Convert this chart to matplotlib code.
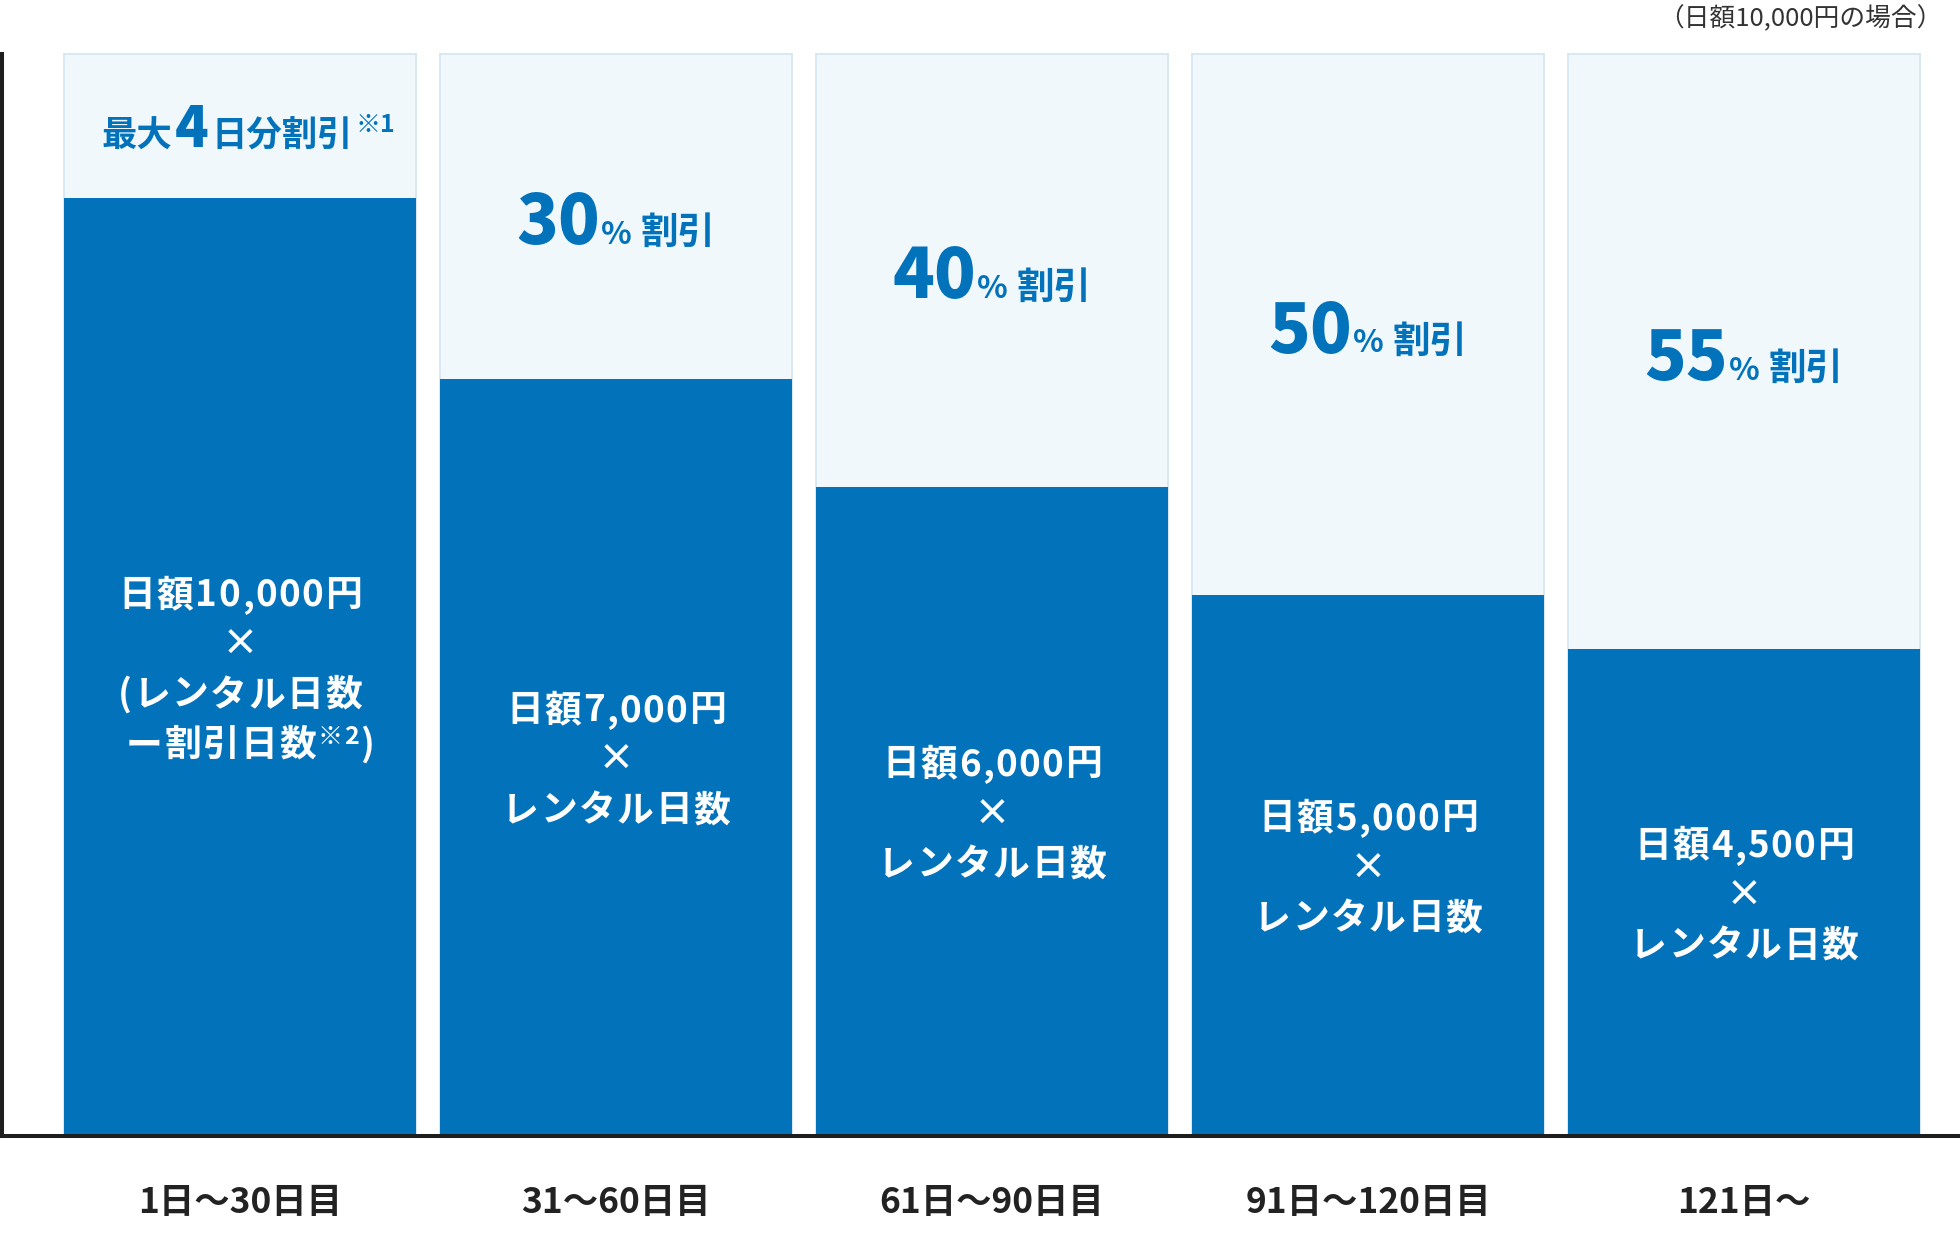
import numpy as np
import matplotlib
matplotlib.use('Agg')
import matplotlib.pyplot as plt
from matplotlib.transforms import offset_copy

plt.rcParams['font.family'] = ['Noto Sans CJK JP', 'DejaVu Sans']

# data
categories = ['1日〜30日目', '31〜60日目', '61日〜90日目', '91日〜120日目', '121日〜']
price_share = [86.7, 70, 60, 50, 45]          # % of the full daily price that is paid
discount_pct = [None, '30', '40', '50', '55']
daily_price = ['10,000', '7,000', '6,000', '5,000', '4,500']

dark = '#0272bb'
light = '#f0f8fc'
edge = '#d9e8f5'
ink = '#222222'

DPI = 100
fig = plt.figure(figsize=(19.6, 12.58), dpi=DPI)
ax = fig.add_axes([2 / 1960, 122 / 1258, 1958 / 1960, 1082 / 1258])
renderer = fig.canvas.get_renderer()

x = np.arange(len(categories))
width = 352 / 376

ax.bar(x, [100] * len(x), width=width, color=light, edgecolor=edge, linewidth=1.5,
       zorder=1, clip_on=False)
ax.bar(x, price_share, width=width, color=dark, linewidth=0, zorder=2)

ax.set_xlim(-238 / 376, 1720 / 376)
ax.set_ylim(0, 100)
for s in ['top', 'right']:
    ax.spines[s].set_visible(False)
for s in ['left', 'bottom']:
    ax.spines[s].set_color('#1e1e1e')
    ax.spines[s].set_linewidth(2.9)
    ax.spines[s].set_zorder(5)
ax.set_yticks([])
ax.set_xticks(x, categories, fontsize=25.5, fontweight='bold', color=ink)
ax.tick_params(axis='x', length=0, pad=35)


def rich_line(xc, yc, segs, color, dx=0, dy=0, track=0):
    # segs: (text, size, rise_px, gap_px, weight); centred on xc, baseline at yc + dy px
    arts = []
    for s, size, rise, gap, weight in segs:
        chars = list(s) if track else [s]
        for j, c in enumerate(chars):
            t = ax.text(xc, yc, c, fontsize=size, fontweight=weight, color=color,
                        ha='left', va='baseline', zorder=6)
            w = t.get_window_extent(renderer).width if c.strip() else size * 0.5 * DPI / 72
            g = gap if j == len(chars) - 1 else track
            arts.append((t, w, rise, g))
    total = sum(w + g for _, w, _, g in arts) - arts[-1][3]
    cur = dx - total / 2
    for t, w, rise, gap in arts:
        t.set_transform(offset_copy(ax.transData, fig=fig, x=cur * 72 / DPI,
                                    y=(rise + dy) * 72 / DPI, units='points'))
        cur += w + gap


B = 'bold'
H = 'black'
for i in x:
    # discount heading in the light part
    top_mid = (100 + price_share[i]) / 2
    if discount_pct[i] is None:
        segs = [('最大', 25.5, 0, 3, B), ('4', 40, 0, 3, H), ('日分割引', 25.5, 0, 2, B),
                ('※1', 18, 15, 0, B)]
        rich_line(i, top_mid, segs, dark, dx=8, dy=-21)
    else:
        segs = [(discount_pct[i], 49.5, 0, 1, H), ('%', 23, 0, 9, B), ('割引', 27, 0, 0, B)]
        rich_line(i, top_mid, segs, dark, dy=-28)

    # price formula in the dark part
    mid = price_share[i] / 2
    if i == 0:
        lines = [[('日額' + daily_price[i] + '円', 26.5, 0, 0, B)],
                 [('×', 26.5, 0, 0, B)],
                 [('(レンタル日数', 26.5, 0, 0, B)],
                 [(' ー割引日数', 26.5, 0, 2, B), ('※2', 18, 12, 1, B), (')', 26.5, 0, 0, B)]]
    else:
        lines = [[('日額' + daily_price[i] + '円', 26.5, 0, 0, B)],
                 [('×', 26.5, 0, 0, B)],
                 [('レンタル日数', 26.5, 0, 0, B)]]
    n = len(lines)
    for k, segs in enumerate(lines):
        vis = ((n - 1) / 2 - k) * 50
        rich_line(i, mid, segs, 'white', dy=vis - 14, track=1.5)

fig.text(1942 / 1960, 1 - 19 / 1258, '（日額10,000円の場合）', fontsize=18.5,
         color='#333333', ha='right', va='center')

fig.savefig('out.png', dpi=DPI, facecolor='white')
